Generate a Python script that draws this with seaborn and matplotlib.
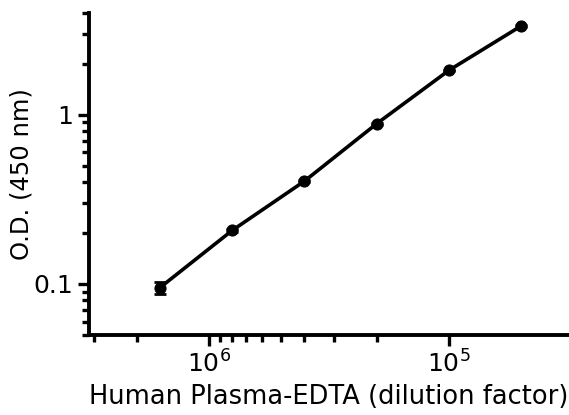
import numpy as np
import pandas as pd
import matplotlib
matplotlib.use('Agg')
import matplotlib.pyplot as plt
from matplotlib.ticker import FixedLocator, NullFormatter
import seaborn as sns

# ── Données ──────────────────────────────────────────────────
dilution = [1.6e6, 8e5, 4e5, 2e5, 1e5, 5e4]
od_450 = [0.095, 0.207, 0.405, 0.885, 1.83, 3.35]
od_err = [0.008, 0.004, 0.006, 0.01, 0.02, 0.03]

x_major = [1e6, 1e5]
x_minor = [3e6, 2e6, 9e5, 8e5, 7e5, 6e5, 5e5, 4e5, 3e5, 2e5]
y_major = [0.1, 1]
y_labels = ["0.1", "1"]

df = pd.DataFrame({"dilution": dilution, "od": od_450, "err": od_err})

sns.set_style("ticks", {"axes.edgecolor": "black", "text.color": "black",
                        "axes.labelcolor": "black", "xtick.color": "black",
                        "ytick.color": "black"})
plt.rcParams['font.family'] = ['DejaVu Sans']

fig = plt.figure(figsize=(5.69, 4.15), dpi=100)
ax = fig.add_axes([0.156, 0.193, 0.844, 0.776])

ax.errorbar(df["dilution"], df["od"], yerr=df["err"], fmt="none",
            ecolor="black", elinewidth=2, capsize=4, capthick=2, zorder=2)
sns.lineplot(data=df, x="dilution", y="od", ax=ax, color="black",
             linewidth=2.6, marker="o", markersize=8, markeredgecolor="black",
             markerfacecolor="black", zorder=3)

ax.set_xscale("log")
ax.set_yscale("log")
ax.set_xlim(10**6.5, 10**4.5)
ax.set_ylim(0.05, 4)

ax.xaxis.set_major_locator(FixedLocator(x_major))
ax.xaxis.set_minor_locator(FixedLocator(x_minor))
ax.xaxis.set_minor_formatter(NullFormatter())
ax.yaxis.set_major_locator(FixedLocator(y_major))
ax.set_yticklabels(y_labels)
ax.yaxis.set_minor_formatter(NullFormatter())

for side in ["top", "right"]:
    ax.spines[side].set_visible(False)
for side in ["left", "bottom"]:
    ax.spines[side].set_linewidth(2.8)
    ax.spines[side].set_color("black")

ax.tick_params(which="major", length=8, width=2.4, labelsize=18, colors="black")
ax.tick_params(which="minor", length=5, width=2.4, colors="black")

ax.set_xlabel("Human Plasma-EDTA (dilution factor)", fontsize=18.5, color="black")
ax.set_ylabel("O.D. (450 nm)", fontsize=17.5, color="black")
ax.yaxis.set_label_coords(-0.115, 0.5)

fig.savefig("out.png", dpi=100)
